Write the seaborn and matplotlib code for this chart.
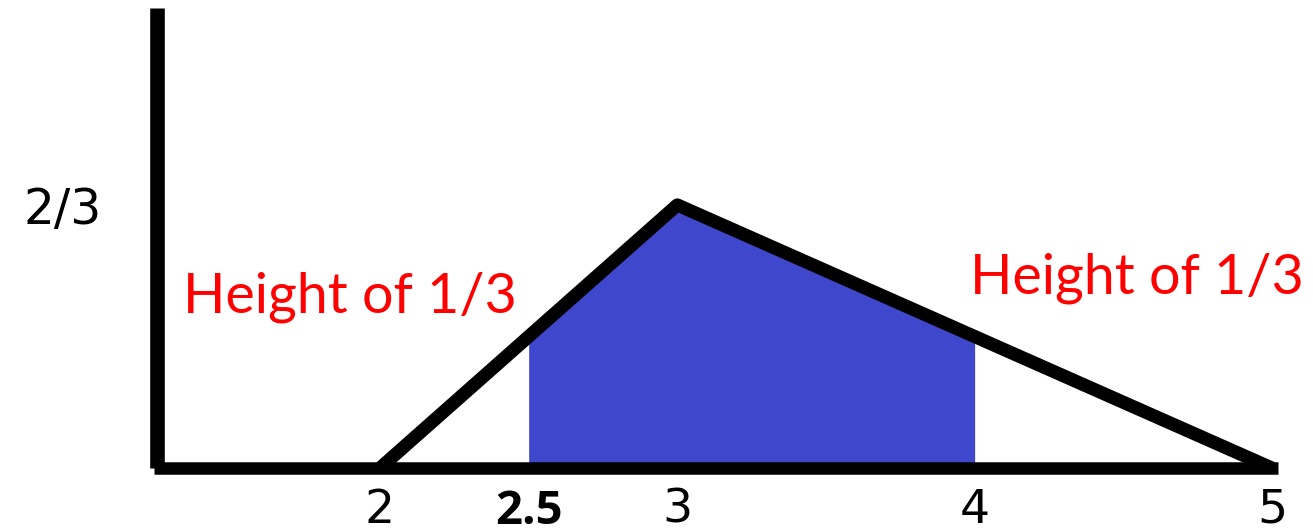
import numpy as np
import matplotlib.pyplot as plt
import seaborn as sns

# triangular density: a=2, peak c=3, b=5, height 2/3
tri_x = [2, 3, 5]
tri_y = [0, 2 / 3, 0]

# shaded probability P(2.5 < X < 4)
shade_x = [2.5, 3, 4]
shade_y = [1 / 3, 2 / 3, 1 / 3]

xtick_vals = [2, 2.5, 3, 4, 5]
xtick_labels = ["2", "2.5", "3", "4", "5"]
ytick_vals = [2 / 3]
ytick_labels = ["2/3"]

note = "Height of 1/3"

sns.set_style("white")
plt.rcParams["font.family"] = ["DejaVu Sans"]

fig = plt.figure(figsize=(13.13, 5.32), dpi=100)
ax = fig.add_axes([0, 0, 1, 1])

ax.fill_between(shade_x, 0, shade_y, color="#3f48cc", linewidth=0, zorder=1)
sns.lineplot(x=tri_x, y=tri_y, ax=ax, color="black", linewidth=9.5,
             solid_joinstyle="round", solid_capstyle="butt", zorder=3)

ax.set_xlim(0.722, 5.138)
ax.set_ylim(-0.162, 1.186)

for s in ["top", "right"]:
    ax.spines[s].set_visible(False)
ax.spines["left"].set_position(("data", 1.25))
ax.spines["left"].set_bounds(0, 1.166)
ax.spines["left"].set_linewidth(10.5)
ax.spines["bottom"].set_position(("data", 0))
ax.spines["bottom"].set_bounds(1.24, 5.02)
ax.spines["bottom"].set_linewidth(9)
for s in ["left", "bottom"]:
    ax.spines[s].set_color("black")
    ax.spines[s].set_capstyle("butt")
    ax.spines[s].set_zorder(4)

ax.set_xticks(xtick_vals)
ax.set_xticklabels(xtick_labels)
ax.set_yticks(ytick_vals)
ax.set_yticklabels(ytick_labels)
ax.tick_params(axis="x", length=0, pad=14, labelsize=34, labelcolor="black")
ax.tick_params(axis="y", length=0, pad=40, labelsize=35, labelcolor="black")
for lab in ax.get_xticklabels():
    if lab.get_text() == "2.5":
        lab.set_fontfamily("Open Sans")
        lab.set_fontweight("bold")
        lab.set_fontsize(34)

ax.text(1.337, 0.433, note, color="red", fontsize=40, family="Lato",
        ha="left", va="center")
ax.text(3.985, 0.482, note, color="red", fontsize=40, family="Lato",
        ha="left", va="center")

fig.savefig("out.png", dpi=100)
